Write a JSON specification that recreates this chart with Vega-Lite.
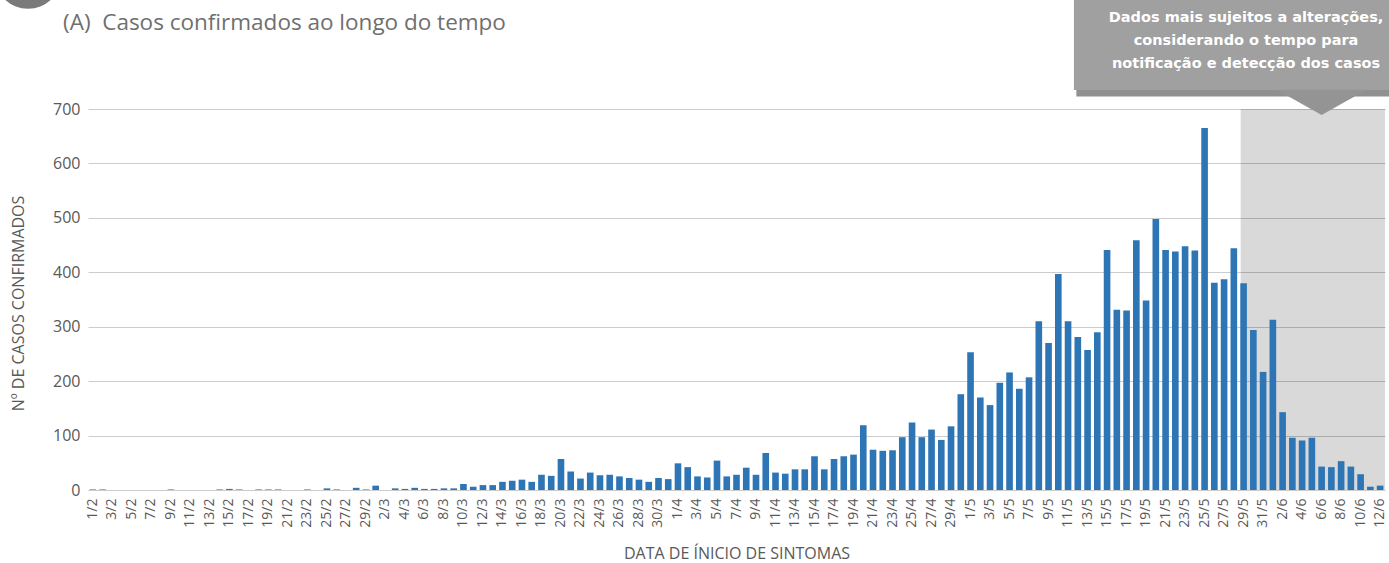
{
  "$schema": "https://vega.github.io/schema/vega-lite/v6.json",
  "width": 1297,
  "height": 381,
  "autosize": {"type": "none"},
  "padding": {"left": 88, "top": 109, "right": 4, "bottom": 73},
  "background": "white",
  "config": {"view": {"stroke": null}, "font": "Open Sans"},
  "resolve": {"scale": {"x": "independent", "y": "independent"}},
  "layer": [
    {
      "data": {"values": [{}]},
      "mark": {"type": "rect", "fill": "#000000", "opacity": 0.15},
      "encoding": {
        "x": {"datum": 118.2, "type": "quantitative", "scale": {"domain": [0, 133], "nice": false, "zero": false}, "axis": null},
        "x2": {"datum": 133},
        "y": {"datum": 0, "type": "quantitative", "scale": {"domain": [0, 700], "nice": false, "zero": false}, "axis": null},
        "y2": {"datum": 700}
      }
    },
    {
      "data": {"values": [
        {"d":"1/2","n":1},{"d":"2/2","n":1},{"d":"3/2","n":0},{"d":"4/2","n":0},{"d":"5/2","n":0},{"d":"6/2","n":0},{"d":"7/2","n":0},{"d":"8/2","n":0},{"d":"9/2","n":1},{"d":"10/2","n":0},
        {"d":"11/2","n":0},{"d":"12/2","n":0},{"d":"13/2","n":0},{"d":"14/2","n":1},{"d":"15/2","n":2},{"d":"16/2","n":1},{"d":"17/2","n":0},{"d":"18/2","n":1},{"d":"19/2","n":1},{"d":"20/2","n":1},
        {"d":"21/2","n":0},{"d":"22/2","n":0},{"d":"23/2","n":1},{"d":"24/2","n":0},{"d":"25/2","n":3},{"d":"26/2","n":1},{"d":"27/2","n":0},{"d":"28/2","n":4},{"d":"29/2","n":1},
        {"d":"1/3","n":8},{"d":"2/3","n":0},{"d":"3/3","n":3},{"d":"4/3","n":2},{"d":"5/3","n":4},{"d":"6/3","n":2},{"d":"7/3","n":2},{"d":"8/3","n":3},{"d":"9/3","n":3},{"d":"10/3","n":11},
        {"d":"11/3","n":6},{"d":"12/3","n":9},{"d":"13/3","n":9},{"d":"14/3","n":15},{"d":"15/3","n":17},{"d":"16/3","n":19},{"d":"17/3","n":15},{"d":"18/3","n":28},{"d":"19/3","n":26},{"d":"20/3","n":57},
        {"d":"21/3","n":34},{"d":"22/3","n":21},{"d":"23/3","n":32},{"d":"24/3","n":27},{"d":"25/3","n":28},{"d":"26/3","n":25},{"d":"27/3","n":22},{"d":"28/3","n":19},{"d":"29/3","n":15},{"d":"30/3","n":22},{"d":"31/3","n":20},
        {"d":"1/4","n":49},{"d":"2/4","n":42},{"d":"3/4","n":25},{"d":"4/4","n":23},{"d":"5/4","n":54},{"d":"6/4","n":25},{"d":"7/4","n":28},{"d":"8/4","n":41},{"d":"9/4","n":28},{"d":"10/4","n":68},
        {"d":"11/4","n":32},{"d":"12/4","n":30},{"d":"13/4","n":38},{"d":"14/4","n":38},{"d":"15/4","n":62},{"d":"16/4","n":38},{"d":"17/4","n":57},{"d":"18/4","n":62},{"d":"19/4","n":65},{"d":"20/4","n":119},
        {"d":"21/4","n":74},{"d":"22/4","n":72},{"d":"23/4","n":73},{"d":"24/4","n":97},{"d":"25/4","n":124},{"d":"26/4","n":97},{"d":"27/4","n":111},{"d":"28/4","n":92},{"d":"29/4","n":117},{"d":"30/4","n":176},
        {"d":"1/5","n":253},{"d":"2/5","n":170},{"d":"3/5","n":156},{"d":"4/5","n":197},{"d":"5/5","n":216},{"d":"6/5","n":186},{"d":"7/5","n":207},{"d":"8/5","n":310},{"d":"9/5","n":270},{"d":"10/5","n":397},
        {"d":"11/5","n":310},{"d":"12/5","n":281},{"d":"13/5","n":257},{"d":"14/5","n":290},{"d":"15/5","n":441},{"d":"16/5","n":331},{"d":"17/5","n":330},{"d":"18/5","n":459},{"d":"19/5","n":348},{"d":"20/5","n":498},
        {"d":"21/5","n":441},{"d":"22/5","n":438},{"d":"23/5","n":448},{"d":"24/5","n":440},{"d":"25/5","n":665},{"d":"26/5","n":381},{"d":"27/5","n":387},{"d":"28/5","n":444},{"d":"29/5","n":380},{"d":"30/5","n":294},{"d":"31/5","n":217},
        {"d":"1/6","n":313},{"d":"2/6","n":143},{"d":"3/6","n":96},{"d":"4/6","n":91},{"d":"5/6","n":96},{"d":"6/6","n":43},{"d":"7/6","n":42},{"d":"8/6","n":53},{"d":"9/6","n":43},{"d":"10/6","n":29},{"d":"11/6","n":6},{"d":"12/6","n":8}
      ]},
      "mark": {"type": "bar", "color": "#2e75b6"},
      "encoding": {
        "x": {
          "field": "d", "type": "ordinal", "sort": null,
          "scale": {"paddingInner": 0.32, "paddingOuter": 0.16},
          "axis": {
            "title": "DATA DE ÍNICIO DE SINTOMAS",
            "values": ["1/2","3/2","5/2","7/2","9/2","11/2","13/2","15/2","17/2","19/2","21/2","23/2","25/2","27/2","29/2",
                       "2/3","4/3","6/3","8/3","10/3","12/3","14/3","16/3","18/3","20/3","22/3","24/3","26/3","28/3","30/3",
                       "1/4","3/4","5/4","7/4","9/4","11/4","13/4","15/4","17/4","19/4","21/4","23/4","25/4","27/4","29/4",
                       "1/5","3/5","5/5","7/5","9/5","11/5","13/5","15/5","17/5","19/5","21/5","23/5","25/5","27/5","29/5","31/5",
                       "2/6","4/6","6/6","8/6","10/6","12/6"],
            "labelAngle": 270,
            "labelFontSize": 14,
            "labelColor": "#595959",
            "labelPadding": 8,
            "labelOverlap": false,
            "ticks": false,
            "domainColor": "#cccccc",
            "titleFontSize": 16,
            "titleFontWeight": "normal",
            "titleColor": "#595959",
            "titleX": 648.5,
            "titleY": 63,
            "titleBaseline": "middle",
            "titleAlign": "center"
          }
        },
        "y": {
          "field": "n", "type": "quantitative",
          "scale": {"domain": [0, 700], "nice": false, "zero": true},
          "axis": {
            "title": "Nº DE CASOS CONFIRMADOS",
            "values": [0, 100, 200, 300, 400, 500, 600, 700],
            "grid": true,
            "gridColor": "#cccccc",
            "domain": false,
            "ticks": false,
            "labelFontSize": 16,
            "labelColor": "#595959",
            "labelPadding": 8,
            "titleFontSize": 16,
            "titleFontWeight": "normal",
            "titleColor": "#595959",
            "titleAngle": 270,
            "titleX": -70,
            "titleY": 194,
            "titleAlign": "center",
            "titleBaseline": "middle"
          }
        }
      }
    },
    {
      "data": {"values": [{}]},
      "mark": {"type": "rect", "fill": "#7c7c7c", "opacity": 0.85},
      "encoding": {
        "x": {"datum": 101.35, "type": "quantitative", "scale": {"domain": [0, 133], "nice": false, "zero": false}, "axis": null},
        "x2": {"datum": 136},
        "y": {"datum": 723, "type": "quantitative", "scale": {"domain": [0, 700], "nice": false, "zero": false}, "axis": null},
        "y2": {"datum": 920}
      }
    },
    {
      "data": {"values": [{}]},
      "mark": {"type": "rect", "fill": "#a0a0a0"},
      "encoding": {
        "x": {"datum": 101.1, "type": "quantitative", "scale": {"domain": [0, 133], "nice": false, "zero": false}, "axis": null},
        "x2": {"datum": 136},
        "y": {"datum": 735, "type": "quantitative", "scale": {"domain": [0, 700], "nice": false, "zero": false}, "axis": null},
        "y2": {"datum": 920}
      }
    },
    {
      "data": {"values": [{}]},
      "mark": {"type": "point", "shape": "M-1,-0.28L1,-0.28L0,0.28Z", "filled": true, "color": "#949494", "opacity": 1, "size": 8100},
      "encoding": {
        "x": {"datum": 126.5, "type": "quantitative", "scale": {"domain": [0, 133], "nice": false, "zero": false}, "axis": null},
        "y": {"datum": 712, "type": "quantitative", "scale": {"domain": [0, 700], "nice": false, "zero": false}, "axis": null}
      }
    },
    {
      "data": {"values": [{}]},
      "mark": {"type": "text", "text": "Dados mais sujeitos a alterações,\nconsiderando o tempo para\nnotificação e detecção dos casos", "lineBreak": "\n", "lineHeight": 23, "font": "DejaVu Sans", "fontWeight": "bold", "fontSize": 14.5, "color": "#ffffff", "align": "center", "baseline": "middle"},
      "encoding": {
        "x": {"datum": 118.75, "type": "quantitative", "scale": {"domain": [0, 133], "nice": false, "zero": false}, "axis": null},
        "y": {"datum": 867, "type": "quantitative", "scale": {"domain": [0, 700], "nice": false, "zero": false}, "axis": null}
      }
    },
    {
      "data": {"values": [{}]},
      "mark": {"type": "text", "text": "(A)\u00a0\u00a0Casos confirmados ao longo do tempo", "font": "Open Sans", "fontSize": 22.5, "color": "#6f6f6f", "align": "left", "baseline": "middle"},
      "encoding": {
        "x": {"datum": -2.56, "type": "quantitative", "scale": {"domain": [0, 133], "nice": false, "zero": false}, "axis": null},
        "y": {"datum": 858, "type": "quantitative", "scale": {"domain": [0, 700], "nice": false, "zero": false}, "axis": null}
      }
    },
    {
      "data": {"values": [{}]},
      "mark": {"type": "point", "shape": "circle", "filled": true, "color": "#7a7a7a", "opacity": 1, "size": 4536},
      "encoding": {
        "x": {"datum": -6.15, "type": "quantitative", "scale": {"domain": [0, 133], "nice": false, "zero": false}, "axis": null},
        "y": {"datum": 946, "type": "quantitative", "scale": {"domain": [0, 700], "nice": false, "zero": false}, "axis": null}
      }
    }
  ]
}
